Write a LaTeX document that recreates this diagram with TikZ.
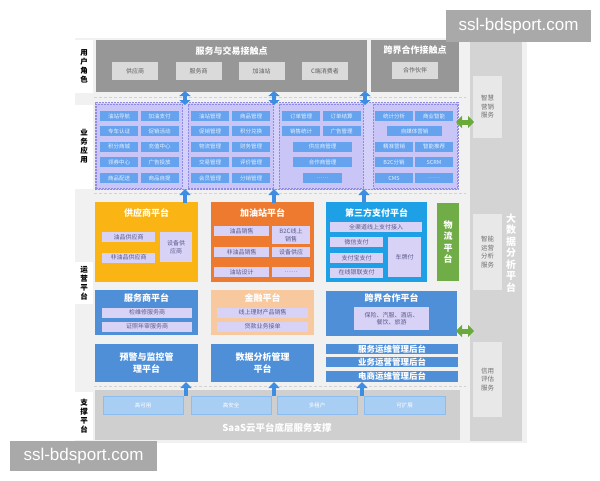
\documentclass[tikz,border=0pt]{standalone}
\usepackage{fontspec}
\setmainfont{Noto Sans CJK SC}
\newfontfamily\wmfont{Liberation Sans}
\usetikzlibrary{arrows.meta}
\definecolor{bgmain}{HTML}{F1F1F1}
\definecolor{touchgray}{HTML}{979797}
\definecolor{tsub}{HTML}{DADADA}
\definecolor{ttext}{HTML}{5F5F5F}
\definecolor{rightgray}{HTML}{D4D4D4}
\definecolor{rsub}{HTML}{E8E8E8}
\definecolor{rtext}{HTML}{707070}
\definecolor{purpleouter}{HTML}{D3D0F9}
\definecolor{purpleinner}{HTML}{C9C5F6}
\definecolor{purpleline}{HTML}{8F8AE6}
\definecolor{btnblue}{HTML}{66A3EE}
\definecolor{btntext}{HTML}{E9F1FF}
\definecolor{pyellow}{HTML}{FAB414}
\definecolor{porange}{HTML}{EE7A2F}
\definecolor{payblue}{HTML}{1EA0E6}
\definecolor{pgreen}{HTML}{70AD47}
\definecolor{dblue}{HTML}{4E8FD8}
\definecolor{lorange}{HTML}{F8C89E}
\definecolor{lav}{HTML}{D8D3F6}
\definecolor{lavtext}{HTML}{5A5A8C}
\definecolor{support}{HTML}{CFCFCF}
\definecolor{supsub}{HTML}{A9CEF3}
\definecolor{supline}{HTML}{8CBDF0}
\definecolor{arrowblue}{HTML}{3D8EE2}
\definecolor{arrowgreen}{HTML}{69AA3B}
\definecolor{wm}{HTML}{A9A9A9}
\definecolor{sepline}{HTML}{D2D2D2}
\tikzset{
  base/.style={inner sep=0pt, outer sep=0pt, align=center},
  lab/.style={base, fill=white, minimum width=18, font=\fontsize{7.5}{9}\selectfont\bfseries},
  ttl/.style={base, text=white, font=\fontsize{9}{10.5}\selectfont\bfseries},
  tsubbox/.style={base, fill=tsub, text=ttext, minimum width=46, minimum height=18, font=\fontsize{6}{7}\selectfont},
  rsubbox/.style={base, fill=rsub, text=rtext, minimum width=29, font=\fontsize{6.5}{8.5}\selectfont},
  grp/.style={base, fill=purpleinner, draw=purpleline, line width=0.6pt, dash pattern=on 2pt off 1pt},
  btn/.style={base, fill=btnblue, text=btntext, minimum width=38, minimum height=10, font=\fontsize{5.5}{6.5}\selectfont},
  plat/.style={base, minimum width=103, minimum height=80},
  lavbox/.style={base, fill=lav, text=lavtext, minimum height=10, font=\fontsize{6}{7.5}\selectfont},
  supbox/.style={base, fill=supsub, draw=supline, line width=0.5pt, text=white, minimum width=80, minimum height=18, font=\fontsize{5.5}{6.5}\selectfont},
  bar/.style={base, fill=dblue, text=white, minimum width=132, minimum height=10.5, font=\fontsize{8.5}{9}\selectfont\bfseries},
  sepl/.style={sepline, line width=0.6pt, dash pattern=on 3pt off 2pt},
  uparr/.style={arrowblue, line width=4.5pt, -{Triangle[width=11pt,length=6pt]}},
  dblarr/.style={arrowblue, line width=4.5pt, {Triangle[width=11pt,length=5pt]}-{Triangle[width=11pt,length=5pt]}},
  grarr/.style={arrowgreen, line width=5pt, {Triangle[width=12pt,length=6pt]}-{Triangle[width=12pt,length=6pt]}},
  wmbox/.style={base, fill=wm, text=white, font=\wmfont\fontsize{17}{18}\selectfont}
}
\begin{document}
\begin{tikzpicture}[x=1pt,y=-1pt]
\useasboundingbox (0,0) rectangle (600,480);
\fill[white] (0,0) rectangle (600,480);
% background
\node[base, fill=bgmain, minimum width=452, minimum height=405] (bg) at (301,240.5) {};
% left labels
\node[lab, minimum height=53] (l1) at (84,66.5) {用\\户\\角\\色};
\node[lab, minimum height=84] (l2) at (84,146.5) {业\\务\\应\\用};
\node[lab, minimum height=42] (l3) at (84,283) {运\\营\\平\\台};
\node[lab, minimum height=48] (l4) at (84,416) {支\\撑\\平\\台};
% separators
\draw[sepl] (94,97) -- (466,97);
\draw[sepl] (94,193) -- (466,193);
\draw[sepl] (94,386) -- (466,386);
% right column
\node[base, fill=rightgray, minimum width=52, minimum height=402] (rc) at (496,240) {};
\node[rsubbox, minimum height=62] (r1) at (487.5,107) {智慧\\营销\\服务};
\node[rsubbox, minimum height=76] (r2) at (487.5,252) {智能\\运营\\分析\\服务};
\node[rsubbox, minimum height=75] (r3) at (487.5,379.5) {信用\\评估\\服务};
\node[base, text=white, font=\fontsize{10}{11.5}\selectfont\bfseries] (rct) at (511,253) {大\\数\\据\\分\\析\\平\\台};
% row 1: touch points
\node[base, fill=touchgray, minimum width=271, minimum height=52] (tp1) at (231.5,66) {};
\node[ttl] (tp1t) at (231.5,51) {服务与交易接触点};
\node[tsubbox] (u1) at (135,71) {供应商};
\node[tsubbox] (u2) at (198.5,71) {服务商};
\node[tsubbox] (u3) at (261.5,71) {加油站};
\node[tsubbox] (u4) at (325,71) {C端消费者};
\node[base, fill=touchgray, minimum width=88, minimum height=52] (tp2) at (415,66) {};
\node[ttl] (tp2t) at (415,50) {跨界合作接触点};
\node[tsubbox, minimum height=17] (u5) at (415,70.5) {合作伙伴};
% row 2: business apps
\node[base, fill=purpleouter, draw=purpleline, line width=0.6pt, dash pattern=on 2pt off 1pt, minimum width=363, minimum height=87] (biz) at (276.5,146) {};
\node[grp, minimum width=86, minimum height=84] (g1) at (139,146) {};
\node[grp, minimum width=85, minimum height=84] (g2) at (230.5,146) {};
\node[grp, minimum width=84, minimum height=84] (g3) at (321,146) {};
\node[grp, minimum width=84, minimum height=84] (g4) at (415,146) {};
% group 1
\node[btn] (a11) at (119,116) {油站导航};
\node[btn] (a12) at (159.5,116) {加油支付};
\node[btn] (a21) at (119,131) {专车认证};
\node[btn] (a22) at (159.5,131) {促销活动};
\node[btn] (a31) at (119,146.5) {积分商城};
\node[btn] (a32) at (159.5,146.5) {充值中心};
\node[btn] (a41) at (119,162) {领券中心};
\node[btn] (a42) at (159.5,162) {广告投放};
\node[btn] (a51) at (119,178) {商品配送};
\node[btn] (a52) at (159.5,178) {商品自提};
% group 2
\node[btn] (b11) at (210,116) {油站管理};
\node[btn] (b12) at (251,116) {商品管理};
\node[btn] (b21) at (210,131) {促销管理};
\node[btn] (b22) at (251,131) {积分兑换};
\node[btn] (b31) at (210,146.5) {物流管理};
\node[btn] (b32) at (251,146.5) {财务管理};
\node[btn] (b41) at (210,162) {交易管理};
\node[btn] (b42) at (251,162) {评价管理};
\node[btn] (b51) at (210,178) {会员管理};
\node[btn] (b52) at (251,178) {分销管理};
% group 3
\node[btn] (c11) at (301,116) {订单管理};
\node[btn] (c12) at (341.5,116) {订单结算};
\node[btn] (c21) at (301,131) {销售统计};
\node[btn] (c22) at (341.5,131) {广告管理};
\node[btn, minimum width=59] (c3) at (322.5,146.5) {供应商管理};
\node[btn, minimum width=59] (c4) at (322.5,162) {合作商管理};
\node[btn, minimum width=39] (c5) at (322.5,178) {……};
% group 4
\node[btn] (d11) at (394,116) {统计分析};
\node[btn] (d12) at (434,116) {商业智能};
\node[btn, minimum width=55] (d2) at (414.5,131) {自媒体营销};
\node[btn] (d31) at (394,146.5) {精准营销};
\node[btn] (d32) at (434,146.5) {智能推荐};
\node[btn] (d41) at (394,162) {B2C分销};
\node[btn] (d42) at (434,162) {SCRM};
\node[btn] (d51) at (394,178) {CMS};
\node[btn] (d52) at (434,178) {……};
% row 3a platforms
\node[plat, fill=pyellow] (p1) at (146.5,242) {};
\node[ttl] (p1t) at (146.5,213) {供应商平台};
\node[lavbox, minimum width=53] (p1a) at (128.5,237) {油品供应商};
\node[lavbox, minimum width=53] (p1b) at (128.5,257.5) {非油品供应商};
\node[lavbox, minimum width=32, minimum height=30] (p1c) at (176,247) {设备供\\应商};
\node[plat, fill=porange] (p2) at (262.5,242) {};
\node[ttl] (p2t) at (262.5,213) {加油站平台};
\node[lavbox, minimum width=55] (p2a) at (241.5,231) {油品销售};
\node[lavbox, minimum width=38, minimum height=18] (p2b) at (291,235) {B2C线上\\销售};
\node[lavbox, minimum width=55] (p2c) at (241.5,252) {非油品销售};
\node[lavbox, minimum width=38] (p2d) at (291,252) {设备供应};
\node[lavbox, minimum width=55] (p2e) at (241.5,272) {油站设计};
\node[lavbox, minimum width=38] (p2f) at (291,272) {……};
\node[plat, fill=payblue, minimum width=101] (p3) at (376.5,242) {};
\node[ttl] (p3t) at (376.5,213) {第三方支付平台};
\node[lavbox, minimum width=92] (p3a) at (376,227) {全渠道线上支付接入};
\node[lavbox, minimum width=53] (p3b) at (356.5,242) {微信支付};
\node[lavbox, minimum width=53] (p3c) at (356.5,258) {支付宝支付};
\node[lavbox, minimum width=53] (p3d) at (356.5,272.5) {在线银联支付};
\node[lavbox, minimum width=33, minimum height=40] (p3e) at (404.5,257) {车牌付};
\node[base, fill=pgreen, minimum width=22, minimum height=78, text=white, font=\fontsize{9}{11.5}\selectfont\bfseries] (p4) at (448,242) {物\\流\\平\\台};
% row 3b
\node[plat, fill=dblue, minimum height=45] (q1) at (146.5,312.5) {};
\node[ttl] (q1t) at (146.5,298) {服务商平台};
\node[lavbox, minimum width=90] (q1a) at (147,312.5) {检维修服务商};
\node[lavbox, minimum width=90] (q1b) at (147,326.5) {证照年审服务商};
\node[plat, fill=lorange, minimum height=45] (q2) at (262.5,312.5) {};
\node[ttl] (q2t) at (262.5,298) {金融平台};
\node[lavbox, minimum width=91] (q2a) at (262.5,312.5) {线上理财产品销售};
\node[lavbox, minimum width=91] (q2b) at (262.5,326.5) {贷款业务接单};
\node[plat, fill=dblue, minimum width=131, minimum height=45] (q3) at (391.5,313.5) {};
\node[ttl] (q3t) at (391.5,298) {跨界合作平台};
\node[lavbox, minimum width=75, minimum height=23] (q3a) at (391.5,318.5) {保险、汽服、酒店、\\餐饮、旅游};
% row 3c
\node[plat, fill=dblue, minimum height=38, text=white, font=\fontsize{9}{12}\selectfont\bfseries] (m1) at (146.5,363) {预警与监控管\\理平台};
\node[plat, fill=dblue, minimum height=38, text=white, font=\fontsize{9}{12}\selectfont\bfseries] (m2) at (262.5,363) {数据分析管理\\平台};
\node[bar] (m3) at (392,349) {服务运维管理后台};
\node[bar] (m4) at (392,362) {业务运营管理后台};
\node[bar] (m5) at (392,376.5) {电商运维管理后台};
% row 4 support
\node[base, fill=support, minimum width=365, minimum height=50] (sp) at (277.5,415) {};
\node[supbox] (s1) at (143,405) {高可用};
\node[supbox] (s2) at (231,405) {高安全};
\node[supbox] (s3) at (317,405) {多租户};
\node[supbox, minimum width=81] (s4) at (404.5,405) {可扩展};
\node[base, text=white, font=\fontsize{9.5}{10}\selectfont\bfseries] (spt) at (277,428) {SaaS云平台底层服务支撑};
% arrows: touch points <-> business
\coordinate (t1a) at (185,91); \coordinate (t1b) at (185,105);
\coordinate (t2a) at (274,91); \coordinate (t2b) at (274,105);
\coordinate (t3a) at (365,91); \coordinate (t3b) at (365,105);
\draw[dblarr] (t1a) -- (t1b);
\draw[dblarr] (t2a) -- (t2b);
\draw[dblarr] (t3a) -- (t3b);
% arrows: platforms -> business
\coordinate (v1a) at (185,203); \coordinate (v1b) at (185,189);
\coordinate (v2a) at (274,203); \coordinate (v2b) at (274,189);
\coordinate (v3a) at (364,203); \coordinate (v3b) at (364,189);
\draw[uparr] (v1a) -- (v1b);
\draw[uparr] (v2a) -- (v2b);
\draw[uparr] (v3a) -- (v3b);
% arrows: support -> platforms
\coordinate (w1a) at (186,396); \coordinate (w1b) at (186,382);
\coordinate (w2a) at (274,396); \coordinate (w2b) at (274,382);
\coordinate (w3a) at (362,396); \coordinate (w3b) at (362,382);
\draw[uparr] (w1a) -- (w1b);
\draw[uparr] (w2a) -- (w2b);
\draw[uparr] (w3a) -- (w3b);
% green arrows to big data
\coordinate (ga) at (456,122); \coordinate (gb) at (474,122);
\coordinate (gc) at (456,331); \coordinate (gd) at (474,331);
\draw[grarr] (ga) -- (gb);
\draw[grarr] (gc) -- (gd);
% watermarks
\node[wmbox, minimum width=145, minimum height=32] (wm1) at (518.5,26) {ssl-bdsport.com};
\node[wmbox, minimum width=147, minimum height=30] (wm2) at (83.5,456) {ssl-bdsport.com};
\end{tikzpicture}
\end{document}
